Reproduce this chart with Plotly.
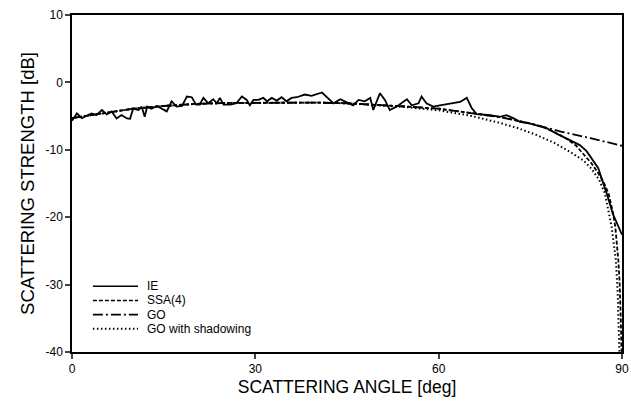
import plotly.graph_objects as go

# Integral-equation (IE) reference solution
ie_angle = [0, 0.8, 1.6, 2.4, 3.2, 4.0, 4.9, 5.7, 6.5, 7.3, 8.1, 9.0, 9.5, 10.0, 10.9, 11.4, 11.9,
            12.3, 13.0, 13.9, 14.7, 15.5, 16.3, 17.1, 18.0, 18.8, 19.6, 20.3, 20.9, 21.5, 22.3,
            23.1, 23.7, 24.2, 24.8, 25.9, 26.9, 27.8, 28.6, 29.1, 29.7, 30.5, 31.3, 31.9, 32.7,
            33.5, 34.3, 35.1, 35.9, 36.8, 38.1, 39.2, 40.9, 41.9, 42.8, 43.9, 44.9, 46.0, 46.9,
            47.9, 48.8, 49.3, 50.4, 51.2, 52.0, 53.1, 54.8, 55.6, 56.7, 57.2, 58.0, 59.1, 60.2,
            61.9, 63.5, 64.6, 65.4, 66.2, 68.4, 70.0, 71.1, 72.2, 73.3, 75.0, 77.7, 79.3, 81.5,
            83.1, 84.2, 85.3, 86.1, 87.5, 88.5, 90.0]
ie_db = [-5.7, -4.6, -5.3, -5.0, -4.6, -4.85, -4.1, -4.75, -4.3, -5.35, -4.85, -5.35, -5.4, -3.9,
         -4.1, -3.6, -5.1, -3.6, -3.9, -3.5, -3.9, -4.3, -2.8, -3.6, -3.5, -2.1, -2.2, -3.3, -3.3,
         -2.3, -3.1, -2.5, -3.1, -2.3, -3.3, -3.3, -3.1, -2.1, -2.6, -3.4, -2.6, -2.6, -2.3, -2.8,
         -2.3, -2.7, -2.2, -2.8, -2.3, -2.2, -1.8, -2.0, -1.5, -2.3, -3.1, -2.5, -2.9, -3.4, -2.6,
         -2.8, -2.3, -4.1, -1.6, -2.6, -4.1, -3.6, -2.5, -3.4, -3.1, -2.1, -3.1, -3.6, -3.4,
         -3.1, -2.9, -2.3, -3.8, -4.7, -4.85, -5.1, -4.85, -5.3, -5.85, -6.1, -6.8, -7.6, -8.6,
         -9.3, -10.2, -11.7, -12.7, -16.5, -19.5, -22.6]

# Small-slope approximation, 4th order
ssa_angle = [0, 5, 10, 15, 20, 25, 30, 35, 40, 45, 50, 55, 60, 65, 70, 75, 77, 79, 81, 82.5, 84,
             85, 86, 87, 87.8, 88.5, 88.9, 89.2, 89.4, 89.6, 89.7, 89.8, 89.9, 90]
ssa_db = [-5.3, -4.6, -3.9, -3.5, -3.2, -3.05, -3.0, -3.0, -3.0, -3.1, -3.3, -3.6, -3.9, -4.5,
          -5.1, -6.1, -6.6, -7.4, -8.4, -9.4, -10.9, -12.0, -13.3, -14.8, -16.5, -19.2, -21.4,
          -24.0, -26.4, -29.5, -31.3, -35.0, -39.5, -40.0]

# Geometric optics
go_angle = [0, 5, 10, 15, 20, 25, 30, 35, 40, 45, 50, 55, 60, 65, 70, 75, 80, 85, 90]
go_db = [-5.3, -4.6, -3.9, -3.5, -3.2, -3.05, -3.0, -3.0, -3.0, -3.1, -3.3, -3.6, -3.9, -4.5,
         -5.15, -6.1, -7.3, -8.3, -9.4]

# Geometric optics with shadowing correction
gosh_angle = [0, 5, 10, 15, 20, 25, 30, 35, 40, 45, 50, 55, 60, 65, 70, 73, 76, 79, 81.5, 83.7,
              85, 86.3, 87.2, 88.3, 89.0, 89.3, 89.55, 89.6]
gosh_db = [-5.3, -4.6, -3.9, -3.5, -3.2, -3.05, -3.0, -3.0, -3.0, -3.1, -3.35, -3.7, -4.15, -4.9,
           -6.0, -6.8, -7.8, -9.0, -10.3, -11.6, -12.8, -14.5, -16.5, -21.4, -26.4, -31.3,
           -39.3, -40.0]

x_ticks = [0, 30, 60, 90]
y_ticks = [10, 0, -10, -20, -30, -40]
y_tick_text = ["10", "0", "-10", "-20", "-30", "-40"]

series_names = ["IE", "SSA(4)", "GO", "GO with shadowing"]
series_dash = ["solid", "4px,2px", "10px,3px,2px,3px", "1.5px,2.5px"]
series_width = [1.8, 1.8, 1.8, 2.0]

fig = go.Figure()
for name, xs, ys, dash, w in zip(series_names,
                                 [ie_angle, ssa_angle, go_angle, gosh_angle],
                                 [ie_db, ssa_db, go_db, gosh_db],
                                 series_dash, series_width):
    fig.add_trace(go.Scatter(x=xs, y=ys, mode="lines", name=name, showlegend=False,
                             line=dict(color="black", width=w, dash=dash)))

# Compact key in the lower-left corner: line sample followed by its label
key_top = 0.195
key_step = 0.042
for i, (name, dash, w) in enumerate(zip(series_names, series_dash, series_width)):
    yk = key_top - i * key_step
    fig.add_shape(type="line", xref="paper", yref="paper", x0=0.038, x1=0.12, y0=yk, y1=yk,
                  line=dict(color="black", width=w - 0.2, dash=dash))
    fig.add_annotation(xref="paper", yref="paper", x=0.132, y=yk, text=name, showarrow=False,
                       xanchor="left", yanchor="middle", font=dict(size=12))

font_family = "Liberation Sans, Arial, Helvetica, sans-serif"
fig.update_layout(
    width=631, height=402,
    margin=dict(l=72, r=9, t=15, b=50),
    paper_bgcolor="white", plot_bgcolor="white",
    font=dict(family=font_family, color="black", size=12),
    showlegend=False,
    xaxis=dict(range=[0, 90], tickvals=x_ticks, ticks="outside", ticklen=5, tickwidth=1.5,
               showline=True, linecolor="black", linewidth=1.5, mirror=True,
               showgrid=False, zeroline=False, automargin=False,
               title=dict(text="SCATTERING ANGLE [deg]", font=dict(size=17.5), standoff=6)),
    yaxis=dict(range=[-40, 10], tickvals=y_ticks, ticktext=y_tick_text, ticks="outside",
               ticklen=5, tickwidth=1.5,
               showline=True, linecolor="black", linewidth=1.5, mirror=True,
               showgrid=False, zeroline=False, automargin=False,
               title=dict(text="SCATTERING STRENGTH [dB]", font=dict(size=18.5), standoff=6)),
)

fig.write_html("out.html")
